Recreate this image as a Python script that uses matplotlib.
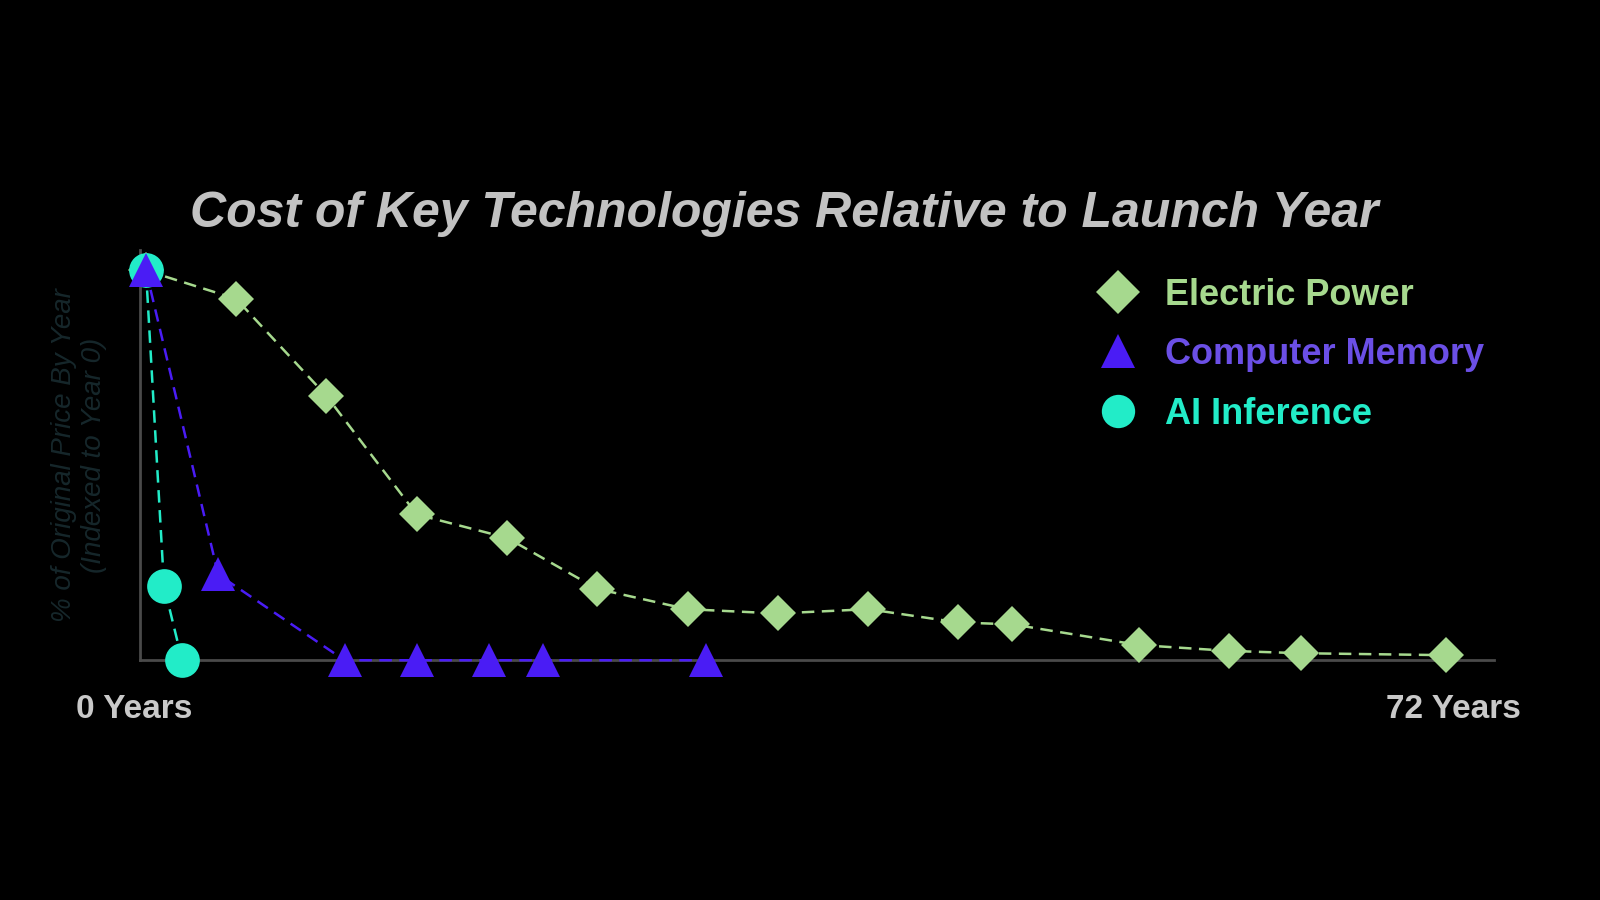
import matplotlib
matplotlib.use("Agg")
import matplotlib.pyplot as plt
import matplotlib.transforms as mtransforms

plt.rcParams['font.family'] = ['Liberation Sans', 'DejaVu Sans']

# data (years since launch, % of year-0 price)
power_years = [0, 5, 10, 15, 20, 25, 30, 35, 40, 45, 48, 55, 60, 64, 72]
power_pct = [100, 92.7, 67.8, 37.4, 31.4, 18.3, 13.1, 12.0, 13.1, 9.7, 9.2, 3.9, 2.4, 1.8, 1.3]

memory_years = [0, 4, 11, 15, 19, 22, 31]
memory_pct = [100, 22, 0, 0, 0, 0, 0]

ai_years = [0, 1, 2]
ai_pct = [100, 19, 0]

series_names = ['Electric Power', 'Computer Memory', 'AI Inference']
tick_years = [0, 72]
tick_labels = ['0 Years', '72 Years']

c_power = '#a6d98e'
c_mem = '#4a1cf5'
c_mem_text = '#6b4fe6'
c_ai = '#22ecc8'
c_axis = '#4a4a4a'

fig = plt.figure(figsize=(16, 9), dpi=100, facecolor='black')
ax = fig.add_axes([0.0874, 0.2664, 0.8466, 0.4556])
ax.set_facecolor('black')

dash = (0, (5, 3))
l1, = ax.plot(power_years, power_pct, color=c_power, ls=dash, lw=1.8, marker='D',
              ms=18, markeredgewidth=0, clip_on=False, zorder=3, label=series_names[0])
l2, = ax.plot(memory_years, memory_pct, color=c_mem, ls=dash, lw=1.8, marker='^',
              ms=25, markeredgewidth=0, clip_on=False, zorder=5, label=series_names[1])
l3, = ax.plot(ai_years, ai_pct, color=c_ai, ls=dash, lw=1.8, marker='o',
              ms=25, markeredgewidth=0, clip_on=False, zorder=4, label=series_names[2])

ax.set_xlim(-0.34, 74.7)
ax.set_ylim(0, 105.2)

for s in ['top', 'right']:
    ax.spines[s].set_visible(False)
for s in ['left', 'bottom']:
    ax.spines[s].set_color(c_axis)
    ax.spines[s].set_linewidth(2)

ax.set_yticks([])
ax.set_xticks(tick_years)
ax.set_xticklabels(tick_labels, fontsize=24, color='#c9c9c9', fontweight='bold')
ax.tick_params(axis='x', length=0, pad=24)
# nudge the two end labels outward a little, like the reference
for lab, dx in zip(ax.get_xticklabels(), [-12, 8]):
    lab.set_transform(lab.get_transform() +
                      mtransforms.ScaledTranslation(dx / 100, 0, fig.dpi_scale_trans))

ax.set_ylabel('% of Original Price By Year\n(Indexed to Year 0)', fontsize=20,
              style='italic', color='#16272b', labelpad=24)

fig.text(0.49, 0.762, 'Cost of Key Technologies Relative to Launch Year',
         ha='center', va='center', fontsize=36, fontweight='bold', style='italic',
         color='#c2c2c2')

leg = ax.legend(loc='upper left', bbox_to_anchor=(0.6825, 1.0125), frameon=False,
                handlelength=1.2, handletextpad=0.7, labelspacing=0.68,
                prop={'weight': 'bold', 'size': 26})
for h in leg.legend_handles:
    h.set_linestyle('none')
leg.legend_handles[0].set_markersize(22)
leg.legend_handles[1].set_markersize(24)
leg.legend_handles[2].set_markersize(24)
for txt, col in zip(leg.get_texts(), [c_power, c_mem_text, c_ai]):
    txt.set_color(col)

fig.savefig('out.png', dpi=100, facecolor='black')
